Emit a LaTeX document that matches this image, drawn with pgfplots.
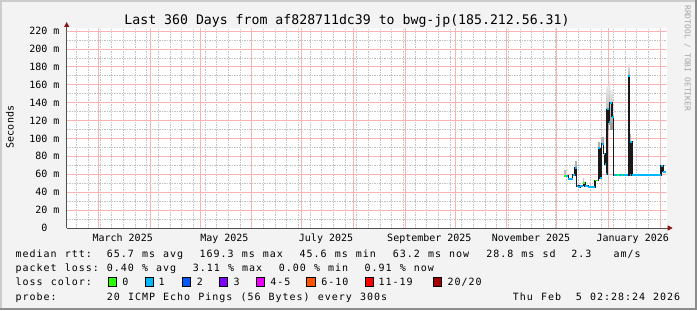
\documentclass[border=0pt]{standalone}
\usepackage{fontspec}
\usepackage{pgfplots}
\pgfplotsset{compat=1.18}
\usetikzlibrary{arrows.meta}
\setmainfont{DejaVu Sans Mono}
\newfontfamily\monofont{DejaVu Sans Mono}
\newfontfamily\legfont{DejaVu Sans Mono}[LetterSpace=9.8,WordSpace=1.163]
\definecolor{bgc}{RGB}{243,243,243}
\definecolor{majgrid}{RGB}{248,180,180}
\definecolor{mingrid}{RGB}{195,195,195}
\definecolor{arrowc}{RGB}{140,20,20}
\definecolor{axc}{RGB}{80,80,80}
\definecolor{l0}{HTML}{26FF00}
\definecolor{l1}{HTML}{00B8FF}
\definecolor{l2}{HTML}{0059FF}
\definecolor{l3}{HTML}{7E00FF}
\definecolor{l4}{HTML}{EE00FF}
\definecolor{l6}{HTML}{FF5500}
\definecolor{l11}{HTML}{FF0000}
\definecolor{l20}{HTML}{A10000}
\newcommand\tkf{\monofont\fontsize{10bp}{12bp}\selectfont}
\newcommand\lgf{\legfont\fontsize{10bp}{12bp}\selectfont}
\newcommand\ttlf{\monofont\fontsize{13.2bp}{15bp}\selectfont}
\newcommand\crf{\monofont\fontsize{8bp}{9bp}\selectfont}
\newcommand\lgn[3]{\node[font=\lgf, anchor=base west, inner sep=0pt] at (#1,{310-#2}) {#3};}
\tikzset{ming/.style={draw=mingrid, line width=0.6bp, dash pattern=on 1.5bp off 1bp},
         majg/.style={draw=majgrid, line width=0.7bp}}

\begin{document}
\begin{tikzpicture}[x=1bp,y=1bp]
\fill[bgc] (0,0) rectangle (697,310);
\fill[black!20] (0,308) rectangle (697,310);
\fill[black!20] (0,0) rectangle (2,310);
\fill[black!45] (0,0) rectangle (697,2);
\fill[black!45] (695,0) rectangle (697,310);
\begin{axis}[
  at={(66.7bp,82bp)}, anchor=origin,
  scale only axis, width=600bp, height=200bp,
  xmin=0, xmax=360, ymin=0, ymax=223.3,
  axis background/.style={fill=white},
  axis x line=bottom, axis y line=left,
  x axis line style={draw=axc, line width=0.8bp, -{Triangle[color=arrowc,length=5bp,width=5bp]}, shorten >=-6bp},
  y axis line style={draw=axc, line width=0.8bp, -{Triangle[color=arrowc,length=5bp,width=5bp]}, shorten >=-6bp},
  xtick={33.6,94.6,155.6,217.6,278.6,339.6},
  xticklabels={March 2025,May 2025,July 2025,September 2025,November 2025,January 2026},
  ytick={0,20,...,220},
  yticklabels={0\hphantom{\ m},20 m,40 m,60 m,80 m,100 m,120 m,140 m,160 m,180 m,200 m,220 m},
  major tick length=0pt, minor tick length=0pt,
  ticklabel style={font=\tkf},
  yticklabel style={anchor=east, inner sep=0pt, xshift=-7bp},
  xticklabel style={anchor=base, inner sep=0pt, yshift=-13bp},
]
% grid
\pgfplotsinvokeforeach{5.9,12.9,...,356}{\draw[ming] (axis cs:#1,0) -- (axis cs:#1,223.3);}
\pgfplotsinvokeforeach{10,30,...,210}{\draw[ming] (axis cs:0,#1) -- (axis cs:360,#1);}
\pgfplotsinvokeforeach{18.9,49.9,79.9,110.9,140.9,171.9,202.9,232.9,263.9,293.9,324.9,355.9}{\draw[majg] (axis cs:#1,0) -- (axis cs:#1,223.3);}
\pgfplotsinvokeforeach{20,40,...,220}{\draw[majg] (axis cs:0,#1) -- (axis cs:360,#1);}
% smoke
\addplot[draw=none, fill=black!25] coordinates {(298.4,58)(298.4,65)(299.8,65)(299.8,58)} -- cycle;
\addplot[draw=none, fill=black!30] coordinates {(304.8,67)(304.8,75)(306.0,75)(306.0,67)} -- cycle;
\addplot[draw=none, fill=black!20] coordinates {(309.8,50)(309.8,56)(310.6,56)(310.6,50)} -- cycle;
\addplot[draw=none, fill=black!30] coordinates {(318.8,89)(318.8,96)(319.8,96)(319.8,89)} -- cycle;
\addplot[draw=none, fill=black!30] coordinates {(320.7,94)(320.7,102)(322.2,102)(322.2,94)} -- cycle;
\addplot[draw=none, bottom color=black!40, top color=black!8] coordinates {(323.9,110)(323.9,158)(325.3,158)(325.3,110)} -- cycle;
\addplot[draw=none, bottom color=black!40, top color=black!8] coordinates {(325.3,115)(325.3,164)(326.0,164)(326.0,115)} -- cycle;
\addplot[draw=none, bottom color=black!40, top color=black!8] coordinates {(326.0,110)(326.0,154)(327.6,154)(327.6,110)} -- cycle;
\addplot[draw=none, bottom color=black!40, top color=black!8] coordinates {(336.8,165)(336.8,183)(337.7,183)(337.7,165)} -- cycle;
\addplot[draw=none, fill=black!30] coordinates {(338.0,96)(338.0,105)(338.7,105)(338.7,96)} -- cycle;
% median (black steps)
\addplot[black!90, line width=1.5bp, const plot, line join=miter] table {
x y
298.4 58
301.0 54.4
303.6 59.2
305.0 67.4
306.0 46.9
307.0 45.4
308.0 47.3
310.0 50
311.0 46.9
313.0 45.8
317.0 53
319.0 89
320.0 56
320.9 94
322.1 83
323.0 71.5
323.8 60
324.2 132.5
325.2 118
325.8 140
327.2 124.3
328.1 59.2
337.0 170
337.8 59.2
338.2 96
339.1 59.2
356.6 69.2
357.9 63
359.3 63
};
% median coloured by loss
\addplot[l1, line width=1.9bp, jump mark left] table {
x y
298.4 58
301.0 54.4
303.6 59.2
305.0 67.4
306.0 46.9
307.0 45.4
308.0 47.3
310.0 50
311.0 46.9
313.0 45.8
317.0 53
319.0 89
320.0 56
320.9 94
322.1 83
323.0 71.5
323.8 60
324.2 132.5
325.2 118
325.8 140
327.2 124.3
328.1 59.2
337.0 170
337.8 59.2
338.2 96
339.1 59.2
356.6 69.2
357.9 63
359.3 63
};
\addplot[l0, line width=1.9bp] coordinates {(298.4,58)(299.8,58)};
\addplot[l0, line width=1.9bp] coordinates {(310.0,50)(311.0,50)};
\addplot[l0, line width=1.9bp] coordinates {(317.0,53)(319.0,53)};
\addplot[l0, line width=1.9bp] coordinates {(330.4,59.2)(331.2,59.2)};
\addplot[l0, line width=1.9bp] coordinates {(333.2,59.2)(334.0,59.2)};
\end{axis}
% texts
\node[font=\ttlf, anchor=base, inner sep=0pt] at (347,{310-24}) {Last 360 Days from af828711dc39 to bwg-jp(185.212.56.31)};
\node[font=\crf, text=black!35, rotate=-90, anchor=west, inner sep=0pt] at (687.5,{310-5}) {RRDTOOL / TOBI OETIKER};
\node[font=\tkf, rotate=90, inner sep=0pt] at (10,{310-127}) {Seconds};
\lgn{15.4}{257.5}{median rtt:}
\lgn{106.7}{257.5}{65.7 ms avg}
\lgn{199.4}{257.5}{169.3 ms max}
\lgn{299.4}{257.5}{45.6 ms min}
\lgn{392.7}{257.5}{63.2 ms now}
\lgn{486.1}{257.5}{28.8 ms sd}
\lgn{571.1}{257.5}{2.3}
\lgn{613.4}{257.5}{am/s}
\lgn{15.4}{271.7}{packet loss:}
\lgn{106.7}{271.7}{0.40 \% avg}
\lgn{192.7}{271.7}{3.11 \% max}
\lgn{278.7}{271.7}{0.00 \% min}
\lgn{364.4}{271.7}{0.91 \% now}
\lgn{15.4}{285.8}{loss color:}
\foreach \bx/\c in {108.3/l0,145/l1,182.3/l2,219/l3,256/l4,306.7/l6,365/l11,433.3/l20}
  \filldraw[fill=\c, draw=black, line width=0.9bp] (\bx,{310-286}) rectangle ++(8.3,8.5);
\lgn{122.1}{285.8}{0}
\lgn{158.4}{285.8}{1}
\lgn{196.7}{285.8}{2}
\lgn{233.4}{285.8}{3}
\lgn{270.1}{285.8}{4-5}
\lgn{321.1}{285.8}{6-10}
\lgn{378.4}{285.8}{11-19}
\lgn{447.4}{285.8}{20/20}
\lgn{15.4}{300}{probe:}
\lgn{106.7}{300}{20 ICMP Echo Pings (56 Bytes) every 300s}
\lgn{512.7}{300}{Thu Feb}
\lgn{575.7}{300}{5 02:28:24 2026}
\pgfresetboundingbox
\path (0,0) rectangle (697,310);
\end{tikzpicture}
\end{document}
